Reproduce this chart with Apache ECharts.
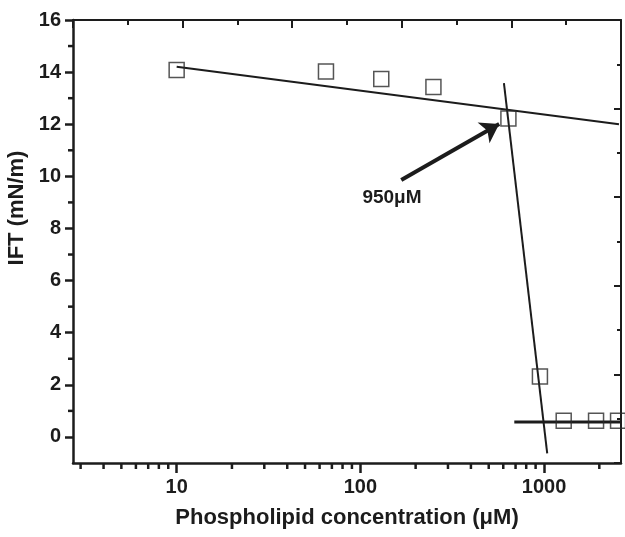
<!DOCTYPE html>
<html>
<head>
<meta charset="utf-8">
<title>IFT vs phospholipid concentration</title>
<script src="https://cdn.jsdelivr.net/npm/echarts@6/dist/echarts.min.js"></script>
<style>
  html, body { margin: 0; padding: 0; background: #fff; }
  #chart { width: 625px; height: 537px; }
</style>
</head>
<body>
<div id="chart"></div>
<script>
// Measured interfacial tension against phospholipid concentration
const concentration = [10, 65, 130, 250, 640, 950, 1280, 1920, 2530]; // µM
const ift = [14.08, 14.02, 13.74, 13.43, 12.22, 2.32, 0.62, 0.62, 0.62]; // mN/m

// Straight-line fits (in log-concentration space)
const preFitX = [10, 2560];
const preFitY = [14.21, 12.0];
const dropFitX = [605, 1041];
const dropFitY = [13.58, -0.63];
const plateauFitX = [689, 2625];
const plateauFitY = [0.57, 0.57];

// Arrow pointing at the break point
const arrowFrom = [167, 9.86];
const arrowTo = [570, 12.01];
const breakLabel = '950μM';

// Axis extents and ticks
const xMin = 2.727, xMax = 2625;
const yMin = -1, yMax = 16;
const xMajorTicks = [10, 100, 1000];
const xMinorTicks = [3, 4, 5, 6, 7, 8, 9, 20, 30, 40, 50, 60, 70, 80, 90,
                     200, 300, 400, 500, 600, 700, 800, 900, 2000];
const yMajorTicks = [0, 2, 4, 6, 8, 10, 12, 14, 16];
const yMinorTicks = [1, 3, 5, 7, 9, 11, 13, 15];

const FONT = '"Liberation Sans", Arial, Helvetica, sans-serif';
const INK = '#1c1c1c';

const pairs = (xs, ys) => xs.map((x, i) => [x, ys[i]]);

const chart = echarts.init(document.getElementById('chart'), null, { renderer: 'canvas' });

const fitLine = (xs, ys, width) => ({
  type: 'line',
  data: pairs(xs, ys),
  symbol: 'none',
  silent: true,
  lineStyle: { color: INK, width: width },
  z: 2
});

// Short outward ticks between the labelled ones on the bottom and left axes
const minorTickSeries = {
  type: 'custom',
  silent: true,
  clip: false,
  z: 3,
  data: xMinorTicks.map(v => [v, yMin, 0]).concat(yMinorTicks.map(v => [xMin, v, 1])),
  encode: { x: 0, y: 1 },
  renderItem: function (params, api) {
    const p = api.coord([api.value(0), api.value(1)]);
    const onLeft = api.value(2) === 1;
    const shape = onLeft
      ? { x1: p[0] - 5, y1: p[1], x2: p[0], y2: p[1] }
      : { x1: p[0], y1: p[1], x2: p[0], y2: p[1] + 6 };
    return { type: 'line', shape: shape, style: { stroke: INK, lineWidth: 2.5 } };
  }
};

chart.setOption({
  animation: false,
  backgroundColor: '#fff',
  grid: { left: 73, right: 4, top: 20, bottom: 74, containLabel: false },
  xAxis: [
    {
      type: 'log', logBase: 10, min: xMin, max: xMax, position: 'bottom',
      name: 'Phospholipid concentration (μM)', nameLocation: 'middle', nameGap: 44,
      nameTextStyle: { fontFamily: FONT, fontWeight: 'bold', fontSize: 22, color: INK },
      axisLine: { show: true, onZero: false, lineStyle: { color: INK, width: 2.5 } },
      axisTick: { show: true, customValues: xMajorTicks, length: 10, lineStyle: { color: INK, width: 2.5 } },
      axisLabel: {
        customValues: xMajorTicks, margin: 14, fontFamily: FONT, fontWeight: 'bold', fontSize: 20, color: INK,
        formatter: v => String(Math.round(v))
      },
      splitLine: { show: false }, minorTick: { show: false }
    },
    {
      type: 'value', min: 0, max: 10, interval: 2, position: 'top',
      axisLine: { show: true, onZero: false, lineStyle: { color: INK, width: 2 } },
      axisTick: { show: true, inside: true, length: 8, lineStyle: { color: INK, width: 2 } },
      minorTick: { show: true, splitNumber: 2, length: 5, lineStyle: { color: INK, width: 2 } },
      axisLabel: { show: false }, splitLine: { show: false }
    }
  ],
  yAxis: [
    {
      type: 'value', min: yMin, max: yMax, position: 'left',
      axisLine: { show: true, onZero: false, lineStyle: { color: INK, width: 2.5 } },
      axisTick: { show: true, customValues: yMajorTicks, length: 8, lineStyle: { color: INK, width: 2.5 } },
      axisLabel: { customValues: yMajorTicks, margin: 12, fontFamily: FONT, fontWeight: 'bold', fontSize: 20, color: INK },
      splitLine: { show: false }
    },
    {
      type: 'value', min: 0, max: 10, interval: 2, position: 'right',
      axisLine: { show: true, onZero: false, lineStyle: { color: INK, width: 2 } },
      axisTick: { show: true, inside: true, length: 7, lineStyle: { color: INK, width: 2 } },
      minorTick: { show: true, splitNumber: 2, length: 4, lineStyle: { color: INK, width: 2 } },
      axisLabel: { show: false }, splitLine: { show: false }
    }
  ],
  graphic: [
    {
      type: 'text', x: 17, y: 208, rotation: Math.PI / 2,
      style: {
        text: 'IFT (mN/m)', fontFamily: FONT, fontWeight: 'bold', fontSize: 22,
        fill: INK, textAlign: 'center', textVerticalAlign: 'middle'
      }
    },
    {
      type: 'text', x: 392, y: 198,
      style: {
        text: breakLabel, fontFamily: FONT, fontWeight: 'bold', fontSize: 19,
        fill: INK, textAlign: 'center', textVerticalAlign: 'middle'
      }
    }
  ],
  series: [
    fitLine(preFitX, preFitY, 2),
    fitLine(dropFitX, dropFitY, 2),
    fitLine(plateauFitX, plateauFitY, 3),
    {
      type: 'line',
      data: [],
      silent: true,
      markLine: {
        silent: true,
        symbol: ['none', 'arrow'],
        symbolSize: 18,
        label: { show: false },
        lineStyle: { color: INK, width: 4, type: 'solid' },
        data: [[{ coord: arrowFrom }, { coord: arrowTo }]]
      }
    },
    {
      type: 'scatter',
      data: pairs(concentration, ift),
      symbol: 'rect',
      symbolSize: 15,
      itemStyle: { color: 'rgba(0,0,0,0)', borderColor: '#2a2a2a', borderWidth: 1.5 },
      z: 5
    },
    minorTickSeries
  ]
});
</script>
</body>
</html>
